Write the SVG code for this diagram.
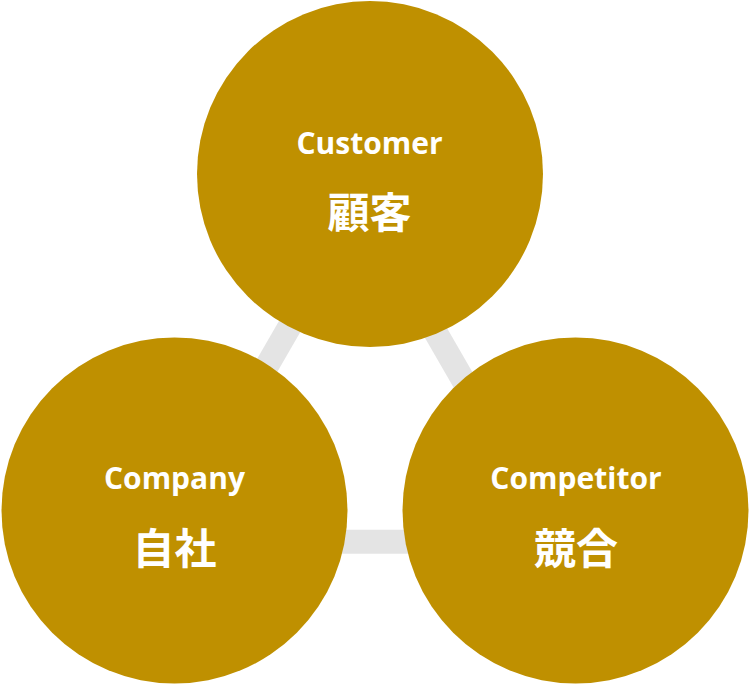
<svg xmlns="http://www.w3.org/2000/svg" width="750" height="684" viewBox="0 0 750 684">
<style>
.node{fill:#BF9000;}
.conn{stroke:#E4E4E4;stroke-width:24;fill:none;}
.en{font-family:"Open Sans","Noto Sans",sans-serif;font-weight:700;font-size:30px;fill:#FFFFFF;text-anchor:middle;}
.jp{font-family:"Noto Sans CJK JP",sans-serif;font-weight:700;font-size:42px;fill:#FFFFFF;text-anchor:middle;}
</style>
<rect width="750" height="684" fill="#FFFFFF"/>
<g id="connectors">
<line class="conn" x1="361" y1="203" x2="165.4" y2="541.7"/>
<line class="conn" x1="361" y1="203" x2="556.4" y2="541.7"/>
<line class="conn" x1="165.4" y1="541.7" x2="556.4" y2="541.7"/>
</g>
<g id="customer">
<circle class="node" cx="370" cy="174" r="173"/>
<text class="en" x="369.5" y="154">Customer</text>
<text class="jp" x="369.5" y="228">顧客</text>
</g>
<g id="company">
<circle class="node" cx="174.5" cy="510.5" r="173"/>
<text class="en" x="174.5" y="489">Company</text>
<text class="jp" x="174.5" y="563.5">自社</text>
</g>
<g id="competitor">
<circle class="node" cx="575.5" cy="510.5" r="173"/>
<text class="en" x="576" y="489">Competitor</text>
<text class="jp" x="576" y="563.5">競合</text>
</g>
</svg>
